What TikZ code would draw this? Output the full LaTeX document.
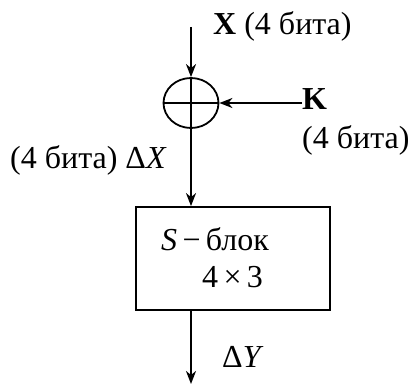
\documentclass[tikz,border=0pt]{standalone}
\usepackage{fontspec}
\setmainfont{Liberation Serif}
\usetikzlibrary{arrows.meta,shapes.geometric}
\begin{document}
\begin{tikzpicture}[x=1pt,y=-1pt,
  lbl/.style={inner sep=0pt,anchor=base west,font=\fontsize{32}{36}\selectfont},
  thin line/.style={line width=1.8pt},
  conn/.style={line width=1.8pt,-{Stealth[length=13pt,width=10pt,inset=4pt]}}]
\useasboundingbox (0,0) rectangle (409,385);
\node[draw,thin line,ellipse,minimum width=55pt,minimum height=50pt,inner sep=0pt] (xor) at (191,103) {};
\draw[thin line] (xor.north) -- (xor.south);
\draw[thin line] (xor.west) -- (xor.east);
\coordinate (top) at (191,27);
\coordinate (kin) at (302,103);
\node[draw,thin line,minimum width=194pt,minimum height=103pt,inner sep=0pt] (sbox) at (233,258.5) {};
\coordinate (out) at (191,384);
\draw[conn] (top) -- (xor.north);
\draw[conn] (kin) -- (xor.east);
\draw[conn] (xor.south) -- (sbox.north -| xor.south);
\draw[conn] (sbox.south -| xor.south) -- (out);
\node[lbl] (xl) at (213,35) {\textbf{X} (4 бита)};
\node[lbl] (kl) at (302,110) {\textbf{K}};
\node[lbl] (kb) at (302,148) {(4 бита)};
\node[lbl] (dx) at (10,168) {(4 бита) Δ\textit{X}};
\node[lbl] (s1) at (161,250) {\textit{S}\,−\,блок};
\node[lbl] (s2) at (202,287) {4\,×\,3};
\node[lbl] (dy) at (222,367) {Δ\textit{Y}};
\end{tikzpicture}
\end{document}
